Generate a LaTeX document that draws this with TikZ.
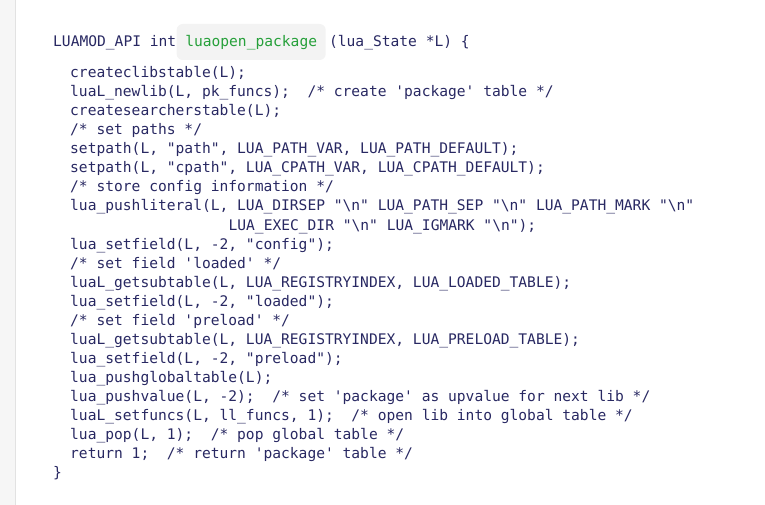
\documentclass[tikz,border=0pt]{standalone}
\usepackage{fontspec}
\setmonofont{DejaVu Sans Mono}
\usetikzlibrary{positioning}

\definecolor{codeblue}{RGB}{40,40,98}
\definecolor{fngreen}{RGB}{38,160,58}
\definecolor{chipgray}{RGB}{243,243,243}
\definecolor{railgray}{RGB}{246,246,246}
\definecolor{edgegray}{RGB}{226,226,226}

\tikzset{
  code/.style={anchor=base west, inner sep=0pt, text=codeblue,
    font=\fontsize{14.6pt}{19pt}\ttfamily},
  chip/.style={code, text=fngreen, fill=chipgray, rounded corners=6pt,
    inner xsep=8.6pt, inner ysep=0pt, text height=23pt, text depth=13pt}
}

\begin{document}
\begin{tikzpicture}[x=1pt, y=-1pt]

    \useasboundingbox (0,0) rectangle (765,505);
    \fill[railgray] (0,0) rectangle (15,505);
    \draw[edgegray, line width=1.5pt] (15.5,0) -- (15.5,505);

    % signature
    \node[code] (head) at (53,47) {LUAMOD\_API int};
    \node[chip] (fn) at (head.base east) {luaopen\_package};
    \node[code] (args) at ([xshift=3pt] fn.base east) {(lua\_State *L) \{};

    % body
    \node[code] (l1) at (70,78) {createclibstable(L);};
    \node[code] (l2) at (70,97) {luaL\_newlib(L, pk\_funcs);\ \ /* create 'package' table */};
    \node[code] (l3) at (70,116) {createsearcherstable(L);};
    \node[code] (l4) at (70,135) {/* set paths */};
    \node[code] (l5) at (70,154) {setpath(L, "path", LUA\_PATH\_VAR, LUA\_PATH\_DEFAULT);};
    \node[code] (l6) at (70,173) {setpath(L, "cpath", LUA\_CPATH\_VAR, LUA\_CPATH\_DEFAULT);};
    \node[code] (l7) at (70,192) {/* store config information */};
    \node[code] (l8) at (70,211) {lua\_pushliteral(L, LUA\_DIRSEP "\textbackslash n" LUA\_PATH\_SEP "\textbackslash n" LUA\_PATH\_MARK "\textbackslash n"};
    \node[code] (l9) at (228.4,230) {LUA\_EXEC\_DIR "\textbackslash n" LUA\_IGMARK "\textbackslash n");};
    \node[code] (l10) at (70,249) {lua\_setfield(L, -2, "config");};
    \node[code] (l11) at (70,268) {/* set field 'loaded' */};
    \node[code] (l12) at (70,287) {luaL\_getsubtable(L, LUA\_REGISTRYINDEX, LUA\_LOADED\_TABLE);};
    \node[code] (l13) at (70,306) {lua\_setfield(L, -2, "loaded");};
    \node[code] (l14) at (70,325) {/* set field 'preload' */};
    \node[code] (l15) at (70,344) {luaL\_getsubtable(L, LUA\_REGISTRYINDEX, LUA\_PRELOAD\_TABLE);};
    \node[code] (l16) at (70,363) {lua\_setfield(L, -2, "preload");};
    \node[code] (l17) at (70,382) {lua\_pushglobaltable(L);};
    \node[code] (l18) at (70,401) {lua\_pushvalue(L, -2);\ \ /* set 'package' as upvalue for next lib */};
    \node[code] (l19) at (70,420) {luaL\_setfuncs(L, ll\_funcs, 1);\ \ /* open lib into global table */};
    \node[code] (l20) at (70,439) {lua\_pop(L, 1);\ \ /* pop global table */};
    \node[code] (l21) at (70,458) {return 1;\ \ /* return 'package' table */};

    \node[code] (close) at (53,477) {\}};
  \end{tikzpicture}
\end{document}
